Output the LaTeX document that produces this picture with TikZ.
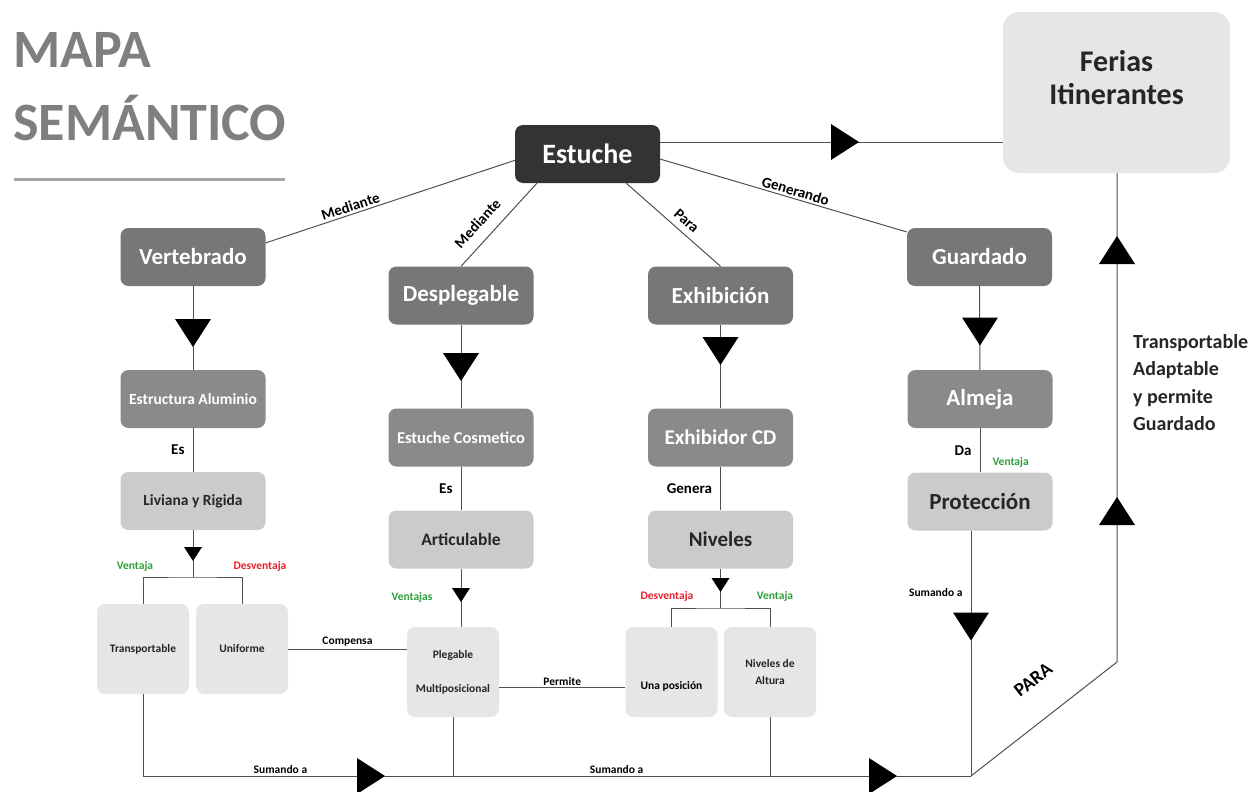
\documentclass[tikz,border=0pt]{standalone}
\usepackage{fontspec}
\setmainfont{Carlito}

\definecolor{darkbox}{HTML}{333333}
\definecolor{midbox}{HTML}{777777}
\definecolor{subbox}{HTML}{8A8A8A}
\definecolor{lightbox}{HTML}{CBCBCB}
\definecolor{palebox}{HTML}{E6E6E6}
\definecolor{linegray}{HTML}{505050}
\definecolor{titlegray}{HTML}{7F7F7F}
\definecolor{rulegray}{HTML}{A6A6A6}
\definecolor{goodgreen}{HTML}{2E9E3A}
\definecolor{badred}{HTML}{E8202A}
\definecolor{inktext}{HTML}{262626}

\newcommand{\setsz}[2]{\fontsize{#1}{#2}\selectfont\bfseries}

\begin{document}
\begin{tikzpicture}[x = 1pt, y = -1pt,
                    box/.style     = {rectangle, rounded corners = 8pt, inner sep = 0pt, align = center, minimum width = 145pt, minimum height = 58pt},
                    main/.style    = {box, fill = midbox, text = white, font = \setsz{23}{27}},
                    sub/.style     = {box, fill = subbox, text = white},
                    lite/.style    = {box, fill = lightbox, text = inktext},
                    pale/.style    = {box, fill = palebox, text = inktext, minimum width = 92pt, minimum height = 90pt, font = \setsz{11.5}{14}},
                    link/.style    = {draw = linegray, line width = 1pt},
                    tag/.style     = {font = \setsz{15}{18}, text = black, inner sep = 2pt},
                    small/.style   = {font = \setsz{11.5}{14}, text = black, inner sep = 2pt},
                    good/.style    = {small, text = goodgreen},
                    bad/.style     = {small, text = badred},
                    pointer/.pic   = {\fill[black] (-18, -14) -- (18, -14) -- (0, 14) -- cycle;}
                    ]
    \useasboundingbox (0, 0) rectangle (1253, 792);

    % title
    \node[anchor = base west, inner sep = 0pt, text = titlegray, font = \setsz{54}{60}] (mapa) at (13, 68) {MAPA};
    \node[anchor = base west, inner sep = 0pt, text = titlegray, font = \setsz{54}{60}] (semantico) at (13, 140) {SEMÁNTICO};
    \draw[rulegray, line width = 3pt] (14, 179) -- (285, 179);

    \node[box, fill = darkbox, text = white, font = \setsz{28}{32}] (est) at (587.5, 154) {Estuche};
    \node[box, fill = palebox, rounded corners = 16pt, minimum width = 227pt, minimum height = 161pt,
          label = {[font = \setsz{30}{33}, text = inktext, align = center, yshift = 15pt]center:Ferias\\Itinerantes}] (fer) at (1116.5, 92.5) {};

    \node[main] (vert) at (193, 257) {Vertebrado};
    \node[main] (desp) at (461, 295.5) {Desplegable};
    \node[main] (exh) at (720.5, 295.5) {Exhibición};
    \node[main] (guar) at (979.5, 257) {Guardado};

    \node[sub, font = \setsz{15.5}{18}] (alu) at (193, 399) {Estructura Aluminio};
    \node[sub, font = \setsz{16.5}{20}] (cos) at (461, 437.5) {Estuche Cosmetico};
    \node[sub, font = \setsz{21}{25}] (cd) at (720.5, 437.5) {Exhibidor CD};
    \node[sub, font = \setsz{23}{27}] (alm) at (980, 399) {Almeja};

    \node[lite, font = \setsz{15.5}{18}] (liv) at (193, 501) {Liviana y Rigida};
    \node[lite, font = \setsz{17.5}{21}] (art) at (461, 539.5) {Articulable};
    \node[lite, font = \setsz{21}{25}] (niv) at (720.5, 539.5) {Niveles};
    \node[lite, font = \setsz{23}{27}] (pro) at (980, 501.5) {Protección};

    \node[pale] (tra) at (143, 649) {Transportable};
    \node[pale] (uni) at (242, 649) {Uniforme};
    \node[pale] (ple) at (453, 672) {Plegable\\[20pt]Multiposicional};
    \node[pale, label = {[small, yshift = -14pt]center:Una posición}] (una) at (671.5, 672) {};
    \node[pale] (alt) at (770, 672) {Niveles de\\[3pt]Altura};

    \draw[link] (est.185) -- (vert.11) node[tag, pos = 0.65, sloped, above] {Mediante};
    \draw[link] (est.210) -- (desp.north) node[tag, inner sep = 11pt, pos = 0.62, sloped, above] {Mediante};
    \draw[link] (est.-37) -- (exh.north) node[tag, inner sep = 6pt, pos = 0.56, sloped, above] {Para};
    \draw[link] (est.-4) -- (guar.161) node[tag, pos = 0.54, sloped, above] {Generando};
    \draw[link] (est.9) -- (est.9 -| fer.west);
    \pic[rotate = 90] (p0) at (845, 142) {pointer};

    \draw[link] (vert) -- (alu);
    \pic (p1) at (193, 333) {pointer};
    \draw[link] (alu) -- (liv) node[tag, midway, left = 6pt] {Es};
    \coordinate (fork1) at (193, 577);
    \draw[link] (liv) -- (fork1);
    \pic[scale = 0.5] (p2) at (193, 554) {pointer};
    \draw[link] (tra.north) |- (fork1) -| (uni.north);
    \node[good] (v1) at (135, 566) {Ventaja};
    \node[bad] (d1) at (260, 566) {Desventaja};
    \draw[link] (uni.east) -- (uni.east -| ple.west) node[small, midway, above] {Compensa};

    \draw[link] (desp) -- (cos);
    \pic (p3) at (461, 367) {pointer};
    \draw[link] (cos) -- (art) node[tag, midway, left = 6pt] {Es};
    \draw[link] (art.south) -- (art.south |- ple.north);
    \pic[scale = 0.5] (p4) at (461, 595) {pointer};
    \node[good] (v3) at (412, 597) {Ventajas};
    \draw[link] (ple.-19) -- (ple.-19 -| una.west) node[small, midway, above] {Permite};

    \draw[link] (exh) -- (cd);
    \pic (p5) at (720.5, 351) {pointer};
    \draw[link] (cd) -- (niv) node[tag, midway, left = 6pt] {Genera};
    \coordinate (fork2) at (720.5, 608);
    \draw[link] (niv) -- (fork2);
    \pic[scale = 0.5] (p6) at (720.5, 585) {pointer};
    \draw[link] (una.north) |- (fork2) -| (alt.north);
    \node[bad] (d2) at (667, 596) {Desventaja};
    \node[good] (v2) at (775, 596) {Ventaja};

    \draw[link] (guar) -- (alm);
    \pic (p7) at (980, 331.5) {pointer};
    \draw[link] (alm) -- (pro) node[tag, midway, left = 6pt] {Da} node[good, pos = 0.78, right = 10pt] {Ventaja};

    \coordinate (base) at (971, 776);
    \coordinate (bend) at (1117, 662);
    \draw[link] (base |- pro.south) -- (base) node[small, pos = 0.25, left = 6pt] {Sumando a};
    \pic (p8) at (971, 626.5) {pointer};
    \draw[link] (tra.south) |- (base) node[small, pos = 0.583, above] {Sumando a} node[small, pos = 0.786, above] {Sumando a};
    \draw[link] (ple.south) -- (ple.south |- base);
    \draw[link] (alt.south) -- (alt.south |- base);
    \pic[rotate = 90] (p9) at (371, 776) {pointer};
    \pic[rotate = 90] (p10) at (883, 776) {pointer};
    \draw[link] (base) -- (bend) -- (bend |- fer.south);
    \node[rotate = 38, font = \setsz{19}{22}] (para) at (1033, 680) {PARA};
    \pic[rotate = 180] (p11) at (1117, 511) {pointer};
    \pic[rotate = 180] (p12) at (1117, 250) {pointer};

    \node[anchor = north west, align = left, inner sep = 0pt, text = inktext, font = \setsz{20}{27.5}] (why) at (1133, 334) {Transportable\\Adaptable\\y permite\\Guardado};
\end{tikzpicture}
\end{document}
